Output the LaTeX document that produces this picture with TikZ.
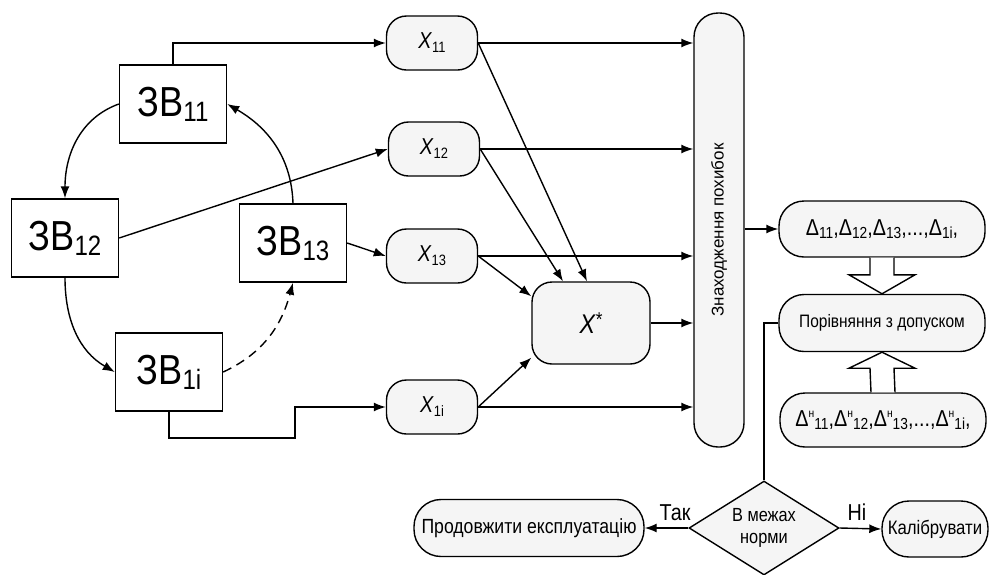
\documentclass[tikz,border=0pt]{standalone}
\usepackage{fontspec}
\setmainfont[FakeStretch=0.86]{Liberation Sans}
\newfontfamily\widefont{Liberation Sans}
\usetikzlibrary{arrows.meta,shapes.geometric}

\newcommand{\zvlab}[1]{ЗВ\raisebox{-5pt}{\fontsize{28}{28}\selectfont#1}}
\newcommand{\xlab}[1]{\textit{X}\raisebox{-4pt}{\fontsize{15}{15}\selectfont#1}}
\newcommand{\dsub}[1]{\raisebox{-3pt}{\fontsize{16}{16}\selectfont#1}}
\newcommand{\dsup}{\raisebox{9pt}{\fontsize{12}{12}\selectfont н}}

\begin{document}
\begin{tikzpicture}[x=1pt,y=1pt,line width=1.4pt,
  arr/.style={-{Latex[length=12pt,width=9pt]}},
  zvbox/.style={draw,rectangle,inner sep=0pt,minimum width=107pt,minimum height=78pt,
    font=\fontsize{42}{42}\selectfont},
  xbox/.style={draw,fill=gray!8,rounded corners=20pt,inner sep=0pt,
    minimum width=91pt,minimum height=54pt,font=\fontsize{23}{23}\selectfont},
  pill/.style={draw,fill=gray!8,rounded corners=25pt,inner sep=0pt,minimum height=56pt,
    font=\fontsize{18}{18}\selectfont},
  hollow/.style={draw,fill=white},
  lbl/.style={font=\fontsize{23}{23}\selectfont}]
  \useasboundingbox (0,0) rectangle (989,-574);

  % measuring channels
  \node[zvbox] (zv11) at (173,-104) {\zvlab{11}};
  \node[zvbox] (zv12) at (65,-238) {\zvlab{12}};
  \node[zvbox] (zv13) at (293,-243) {\zvlab{13}};
  \node[zvbox] (zv1i) at (169,-372) {\zvlab{1i}};

  % readings
  \node[xbox] (x11) at (432,-43) {\xlab{11}};
  \node[xbox] (x12) at (434,-149) {\xlab{12}};
  \node[xbox] (x13) at (432,-256) {\xlab{13}};
  \node[xbox] (x1i) at (432,-407) {\xlab{1i}};
  \node[xbox,minimum width=118pt,minimum height=82pt,font=\fontsize{27}{27}\selectfont]
    (xs) at (591,-323) {\textit{X}\raisebox{7pt}{\fontsize{20}{20}\selectfont *}};

  % processing
  \node[pill,rounded corners=24pt,minimum width=50pt,minimum height=434pt,
    font=\widefont\fontsize{17}{17}\selectfont] (errs) at (719,-230)
    {\rotatebox{90}{Знаходження похибок}};
  \node[pill,minimum width=206pt,font=\fontsize{23}{23}\selectfont] (delta) at (882,-229)
    {Δ\dsub{11},Δ\dsub{12},Δ\dsub{13},...,Δ\dsub{1i},};
  \node[pill,minimum width=206pt,minimum height=57pt] (cmp) at (882,-323)
    {Порівняння з допуском};
  \node[pill,minimum width=206pt,minimum height=54pt,font=\fontsize{23}{23}\selectfont]
    (dnorm) at (883,-420)
    {Δ\dsup\dsub{11},Δ\dsup\dsub{12},Δ\dsup\dsub{13},...,Δ\dsup\dsub{1i},};

  % decision
  \node[draw,diamond,fill=gray!8,aspect=1.6,inner sep=0pt,minimum width=150pt,
    minimum height=94pt,align=center,font=\fontsize{19}{22}\selectfont]
    (chk) at (764,-528) {В межах\\норми};
  \node[pill,rounded corners=27pt,minimum width=230pt,minimum height=57pt,
    font=\fontsize{20.5}{20.5}\selectfont] (cont) at (529,-528) {Продовжити експлуатацію};
  \node[pill,rounded corners=27pt,minimum width=106pt,minimum height=56pt,
    font=\fontsize{19.5}{19.5}\selectfont] (calib) at (935,-529) {Калібрувати};
  \node[lbl] (yes) at (675,-513) {Так};
  \node[lbl] (no) at (857,-512) {Ні};

  % channel links
  \draw[arr] (zv11.north) |- (x11.west);
  \draw[arr] (zv11.west) to[out=200,in=90] (zv12.north);
  \draw[arr] (zv13.north) to[out=92,in=-30] (zv11.east);
  \draw[arr] (zv12.east) -- (x12.west);
  \draw[arr] (zv13.east) -- (x13.west);
  \draw[arr] (zv12.south) to[out=-90,in=150] (zv1i.west);
  \draw[arr,dash pattern=on 9pt off 6pt] (zv1i.east) to[out=25,in=-105] (zv13.south);
  \coordinate (bend) at (295,-438);
  \draw[arr] (zv1i.south) |- (bend) |- (x1i.west);

  % readings to error block
  \foreach \n in {x11,x12,x13,xs,x1i}
    \draw[arr] (\n.east) -- (\n.east -| errs.west);
  \draw[arr] (x11.east) -- ([xshift=-4pt]xs.north);
  \draw[arr] (x12.east) -- ([xshift=-28pt]xs.north);
  \draw[arr] (x13.east) -- ([yshift=-15pt]xs.north west);
  \draw[arr] (x1i.east) -- ([yshift=7pt]xs.south west);
  \draw[arr] (errs.east |- delta.west) -- (delta.west);

  % hollow arrows
  \draw[hollow] ([xshift=-12pt]delta.south) -- ([xshift=-12pt,yshift=19pt]cmp.north)
    -- ([xshift=-33pt,yshift=19pt]cmp.north) -- (cmp.north)
    -- ([xshift=33pt,yshift=19pt]cmp.north) -- ([xshift=12pt,yshift=19pt]cmp.north)
    -- ([xshift=12pt]delta.south);
  \draw[hollow] ([xshift=-12pt]dnorm.north) -- ([xshift=-12pt,yshift=-16pt]cmp.south)
    -- ([xshift=-33pt,yshift=-16pt]cmp.south) -- (cmp.south)
    -- ([xshift=33pt,yshift=-16pt]cmp.south) -- ([xshift=12pt,yshift=-16pt]cmp.south)
    -- ([xshift=12pt]dnorm.north);

  % decision links
  \draw (cmp.west) -| (chk.north);
  \draw[arr] (chk.west) -- (cont.east);
  \draw[arr] (chk.east) -- (calib.west);
\end{tikzpicture}
\end{document}
